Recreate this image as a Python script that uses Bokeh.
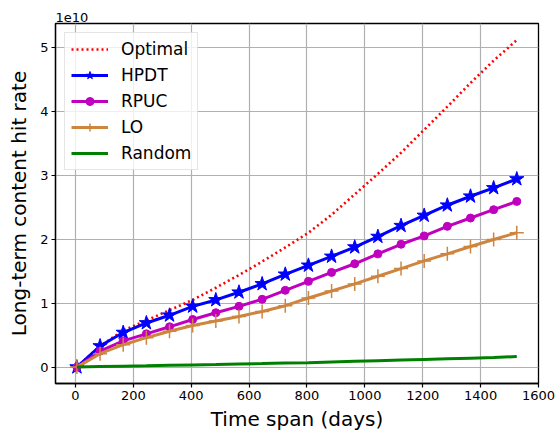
from bokeh.plotting import figure
from bokeh.models import Range1d, FixedTicker, Legend, LegendItem, Title
from bokeh.embed import file_html
from bokeh.resources import INLINE

# ---- data (hit rate in units of 1e10) ----
days = [5, 85, 165, 245, 325, 405, 485, 565, 645, 725,
        805, 885, 965, 1045, 1125, 1205, 1285, 1365, 1445, 1525]
optimal = [0, 0.33, 0.57, 0.73, 0.89, 1.05, 1.24, 1.44, 1.65, 1.87,
           2.10, 2.38, 2.70, 3.02, 3.35, 3.71, 4.07, 4.44, 4.79, 5.11]
hpdt = [0, 0.33, 0.54, 0.69, 0.81, 0.95, 1.05, 1.17, 1.30, 1.45,
        1.59, 1.73, 1.875, 2.04, 2.21, 2.37, 2.53, 2.67, 2.80, 2.94]
rpuc = [0, 0.25, 0.41, 0.52, 0.63, 0.745, 0.85, 0.95, 1.06, 1.20,
        1.34, 1.48, 1.615, 1.77, 1.92, 2.05, 2.20, 2.33, 2.46, 2.59]
lo = [0, 0.21, 0.35, 0.46, 0.56, 0.65, 0.72, 0.79, 0.87, 0.96,
      1.08, 1.19, 1.30, 1.42, 1.54, 1.66, 1.77, 1.885, 1.995, 2.10]
rand = [0, 0.01, 0.015, 0.02, 0.03, 0.035, 0.04, 0.05, 0.055, 0.065,
        0.07, 0.08, 0.09, 0.10, 0.11, 0.12, 0.13, 0.14, 0.15, 0.165]

series_names = ["Optimal", "HPDT", "RPUC", "LO", "Random"]
x_ticks = [0, 200, 400, 600, 800, 1000, 1200, 1400, 1600]
y_ticks = [0, 1, 2, 3, 4, 5]
x_start, x_end = -69, 1600
y_start, y_end = -0.256, 5.37
offset_text = "1e10"

FONT = "DejaVu Sans"

p = figure(width=557, height=436, output_backend="svg", toolbar_location=None,
           x_range=Range1d(x_start, x_end), y_range=Range1d(y_start, y_end),
           min_border_left=55, min_border_right=19, min_border_top=23,
           min_border_bottom=53)

p.background_fill_color = "white"
p.border_fill_color = "white"
p.outline_line_color = "black"
p.outline_line_width = 1.3

for ax in (p.xaxis[0], p.yaxis[0]):
    ax.axis_line_color = "black"
    ax.axis_line_width = 1.3
    ax.major_tick_line_color = "black"
    ax.major_tick_line_width = 1.2
    ax.major_tick_in = 0
    ax.major_tick_out = 4
    ax.minor_tick_line_color = None
    ax.major_label_text_font = FONT
    ax.major_label_text_font_size = "13px"
    ax.major_label_text_color = "black"
    ax.axis_label_text_font = FONT
    ax.axis_label_text_font_size = "20px"
    ax.axis_label_text_font_style = "normal"
    ax.axis_label_text_color = "black"
    ax.major_label_standoff = 3

p.xaxis.ticker = FixedTicker(ticks=x_ticks)
p.yaxis.ticker = FixedTicker(ticks=y_ticks)
p.xaxis.axis_label = "Time span (days)"
p.yaxis.axis_label = "Long-term content hit rate"
p.xaxis.axis_label_standoff = 4
p.yaxis.axis_label_standoff = 6

p.grid.grid_line_color = "#b0b0b0"
p.grid.grid_line_width = 1.2

r_opt = p.line(days, optimal, line_color="#ff0000", line_width=2.6,
               line_dash="2 3")
l_h = p.line(days, hpdt, line_color="#0000ff", line_width=3)
s_h = p.scatter(days, hpdt, marker="star", size=15, fill_color="#0000ff",
                line_color="#0000ff")
l_r = p.line(days, rpuc, line_color="#bf00bf", line_width=3)
s_r = p.scatter(days, rpuc, marker="circle", size=8, fill_color="#bf00bf",
                line_color="#bf00bf")
l_l = p.line(days, lo, line_color="#cd853f", line_width=3)
s_l = p.scatter(days, lo, marker="cross", size=14, line_color="#cd853f",
                line_width=1.5)
l_g = p.line(days, rand, line_color="#008000", line_width=3)

legend = Legend(items=[
    LegendItem(label=series_names[0], renderers=[r_opt]),
    LegendItem(label=series_names[1], renderers=[l_h, s_h]),
    LegendItem(label=series_names[2], renderers=[l_r, s_r]),
    LegendItem(label=series_names[3], renderers=[l_l, s_l]),
    LegendItem(label=series_names[4], renderers=[l_g]),
], location="top_left")
legend.margin = 9
legend.padding = 6
legend.spacing = 6
legend.label_height = 20
legend.glyph_height = 20
legend.glyph_width = 37
legend.label_standoff = 13
legend.label_text_font = FONT
legend.label_text_font_size = "17px"
legend.label_text_color = "black"
legend.border_line_color = "#cccccc"
legend.border_line_width = 1
legend.background_fill_color = "white"
legend.background_fill_alpha = 0.8
p.add_layout(legend)

p.add_layout(Title(text=offset_text, align="left", text_font=FONT,
                   text_font_size="13px", text_font_style="normal",
                   text_color="black", standoff=3, offset=0), "above")

open("out.html", "w").write(file_html(p, INLINE))
